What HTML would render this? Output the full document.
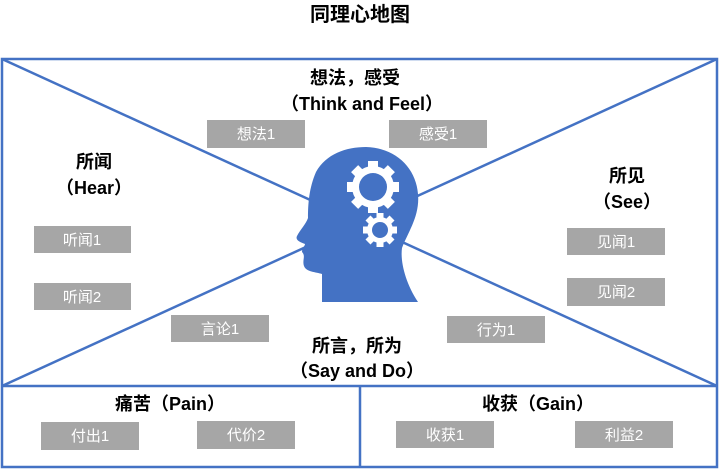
<!DOCTYPE html>
<html><head><meta charset="utf-8"><style>
body{margin:0;background:#fff;width:720px;height:470px;overflow:hidden}
svg{display:block}
text{font-family:"Liberation Sans","Noto Sans CJK SC",sans-serif}
.t{font-size:18px;font-weight:bold;fill:#000;text-anchor:middle}
.b{fill:#a6a6a6}
.bt{font-size:15px;fill:#fff;text-anchor:middle}
</style></head><body>
<svg width="720" height="470" viewBox="0 0 720 470">
<text x="360" y="21" class="t" style="font-size:20px">同理心地图</text>
<g stroke="#4472c4" stroke-width="2.5" fill="none">
<rect x="2" y="59" width="715" height="408"/>
<line x1="2" y1="386" x2="717" y2="386"/>
<line x1="360" y1="386" x2="360" y2="467"/>
<line x1="2" y1="59" x2="717" y2="386"/>
<line x1="717" y1="59" x2="2" y2="386"/>
</g>
<path fill="#4472c4" d="M322,302 L322,274 C316,272 306,272 304,266 C302,260 306,256 302,252 C302,248 305,246 305,244 C300,242 295,240 297,236 C300,230 306,224 308,218 C308,204 309,188 316,172 C326,154 346,147 366,147 C396,148 416,168 418,194 C420,216 408,232 402,248 C400,262 406,284 418,302 Z"/>
<g fill="#fff">
<circle cx="373" cy="187" r="21"/>
<g transform="translate(373,187)">
<rect x="-5" y="-26" width="10" height="52"/><rect x="-26" y="-5" width="52" height="10"/>
<rect x="-5" y="-26" width="10" height="52" transform="rotate(45)"/><rect x="-5" y="-26" width="10" height="52" transform="rotate(-45)"/>
</g>
<circle cx="380" cy="230" r="13"/>
<g transform="translate(380,230)">
<rect x="-3.5" y="-17" width="7" height="34"/><rect x="-17" y="-3.5" width="34" height="7"/>
<rect x="-3.5" y="-17" width="7" height="34" transform="rotate(45)"/><rect x="-3.5" y="-17" width="7" height="34" transform="rotate(-45)"/>
</g>
</g>
<circle cx="373" cy="187" r="14" fill="#4472c4"/>
<circle cx="380" cy="230" r="8" fill="#4472c4"/>
<text x="355" y="84" class="t">想法，感受</text>
<text x="362" y="110" class="t">（Think and Feel）</text>
<text x="94" y="168" class="t">所闻</text>
<text x="94" y="194" class="t">（Hear）</text>
<text x="627" y="182" class="t">所见</text>
<text x="627" y="208" class="t">（See）</text>
<text x="357" y="352" class="t">所言，所为</text>
<text x="357" y="377" class="t">（Say and Do）</text>
<text x="170" y="410" class="t">痛苦（Pain）</text>
<text x="538" y="410" class="t">收获（Gain）</text>
<g>
<rect class="b" x="207" y="120" width="98" height="28"/><text class="bt" x="256" y="139">想法1</text>
<rect class="b" x="389" y="120" width="98" height="28"/><text class="bt" x="438" y="139">感受1</text>
<rect class="b" x="34" y="226" width="97" height="27"/><text class="bt" x="82" y="245">听闻1</text>
<rect class="b" x="34" y="283" width="97" height="27"/><text class="bt" x="82" y="302">听闻2</text>
<rect class="b" x="567" y="228" width="98" height="27"/><text class="bt" x="616" y="247">见闻1</text>
<rect class="b" x="567" y="278" width="98" height="28"/><text class="bt" x="616" y="297">见闻2</text>
<rect class="b" x="171" y="315" width="98" height="27"/><text class="bt" x="220" y="334">言论1</text>
<rect class="b" x="447" y="316" width="98" height="27"/><text class="bt" x="496" y="335">行为1</text>
<rect class="b" x="41" y="422" width="98" height="28"/><text class="bt" x="90" y="441">付出1</text>
<rect class="b" x="197" y="421" width="98" height="28"/><text class="bt" x="246" y="440">代价2</text>
<rect class="b" x="396" y="421" width="98" height="27"/><text class="bt" x="445" y="440">收获1</text>
<rect class="b" x="575" y="421" width="98" height="27"/><text class="bt" x="624" y="440">利益2</text>
</g>
</svg>
</body></html>
